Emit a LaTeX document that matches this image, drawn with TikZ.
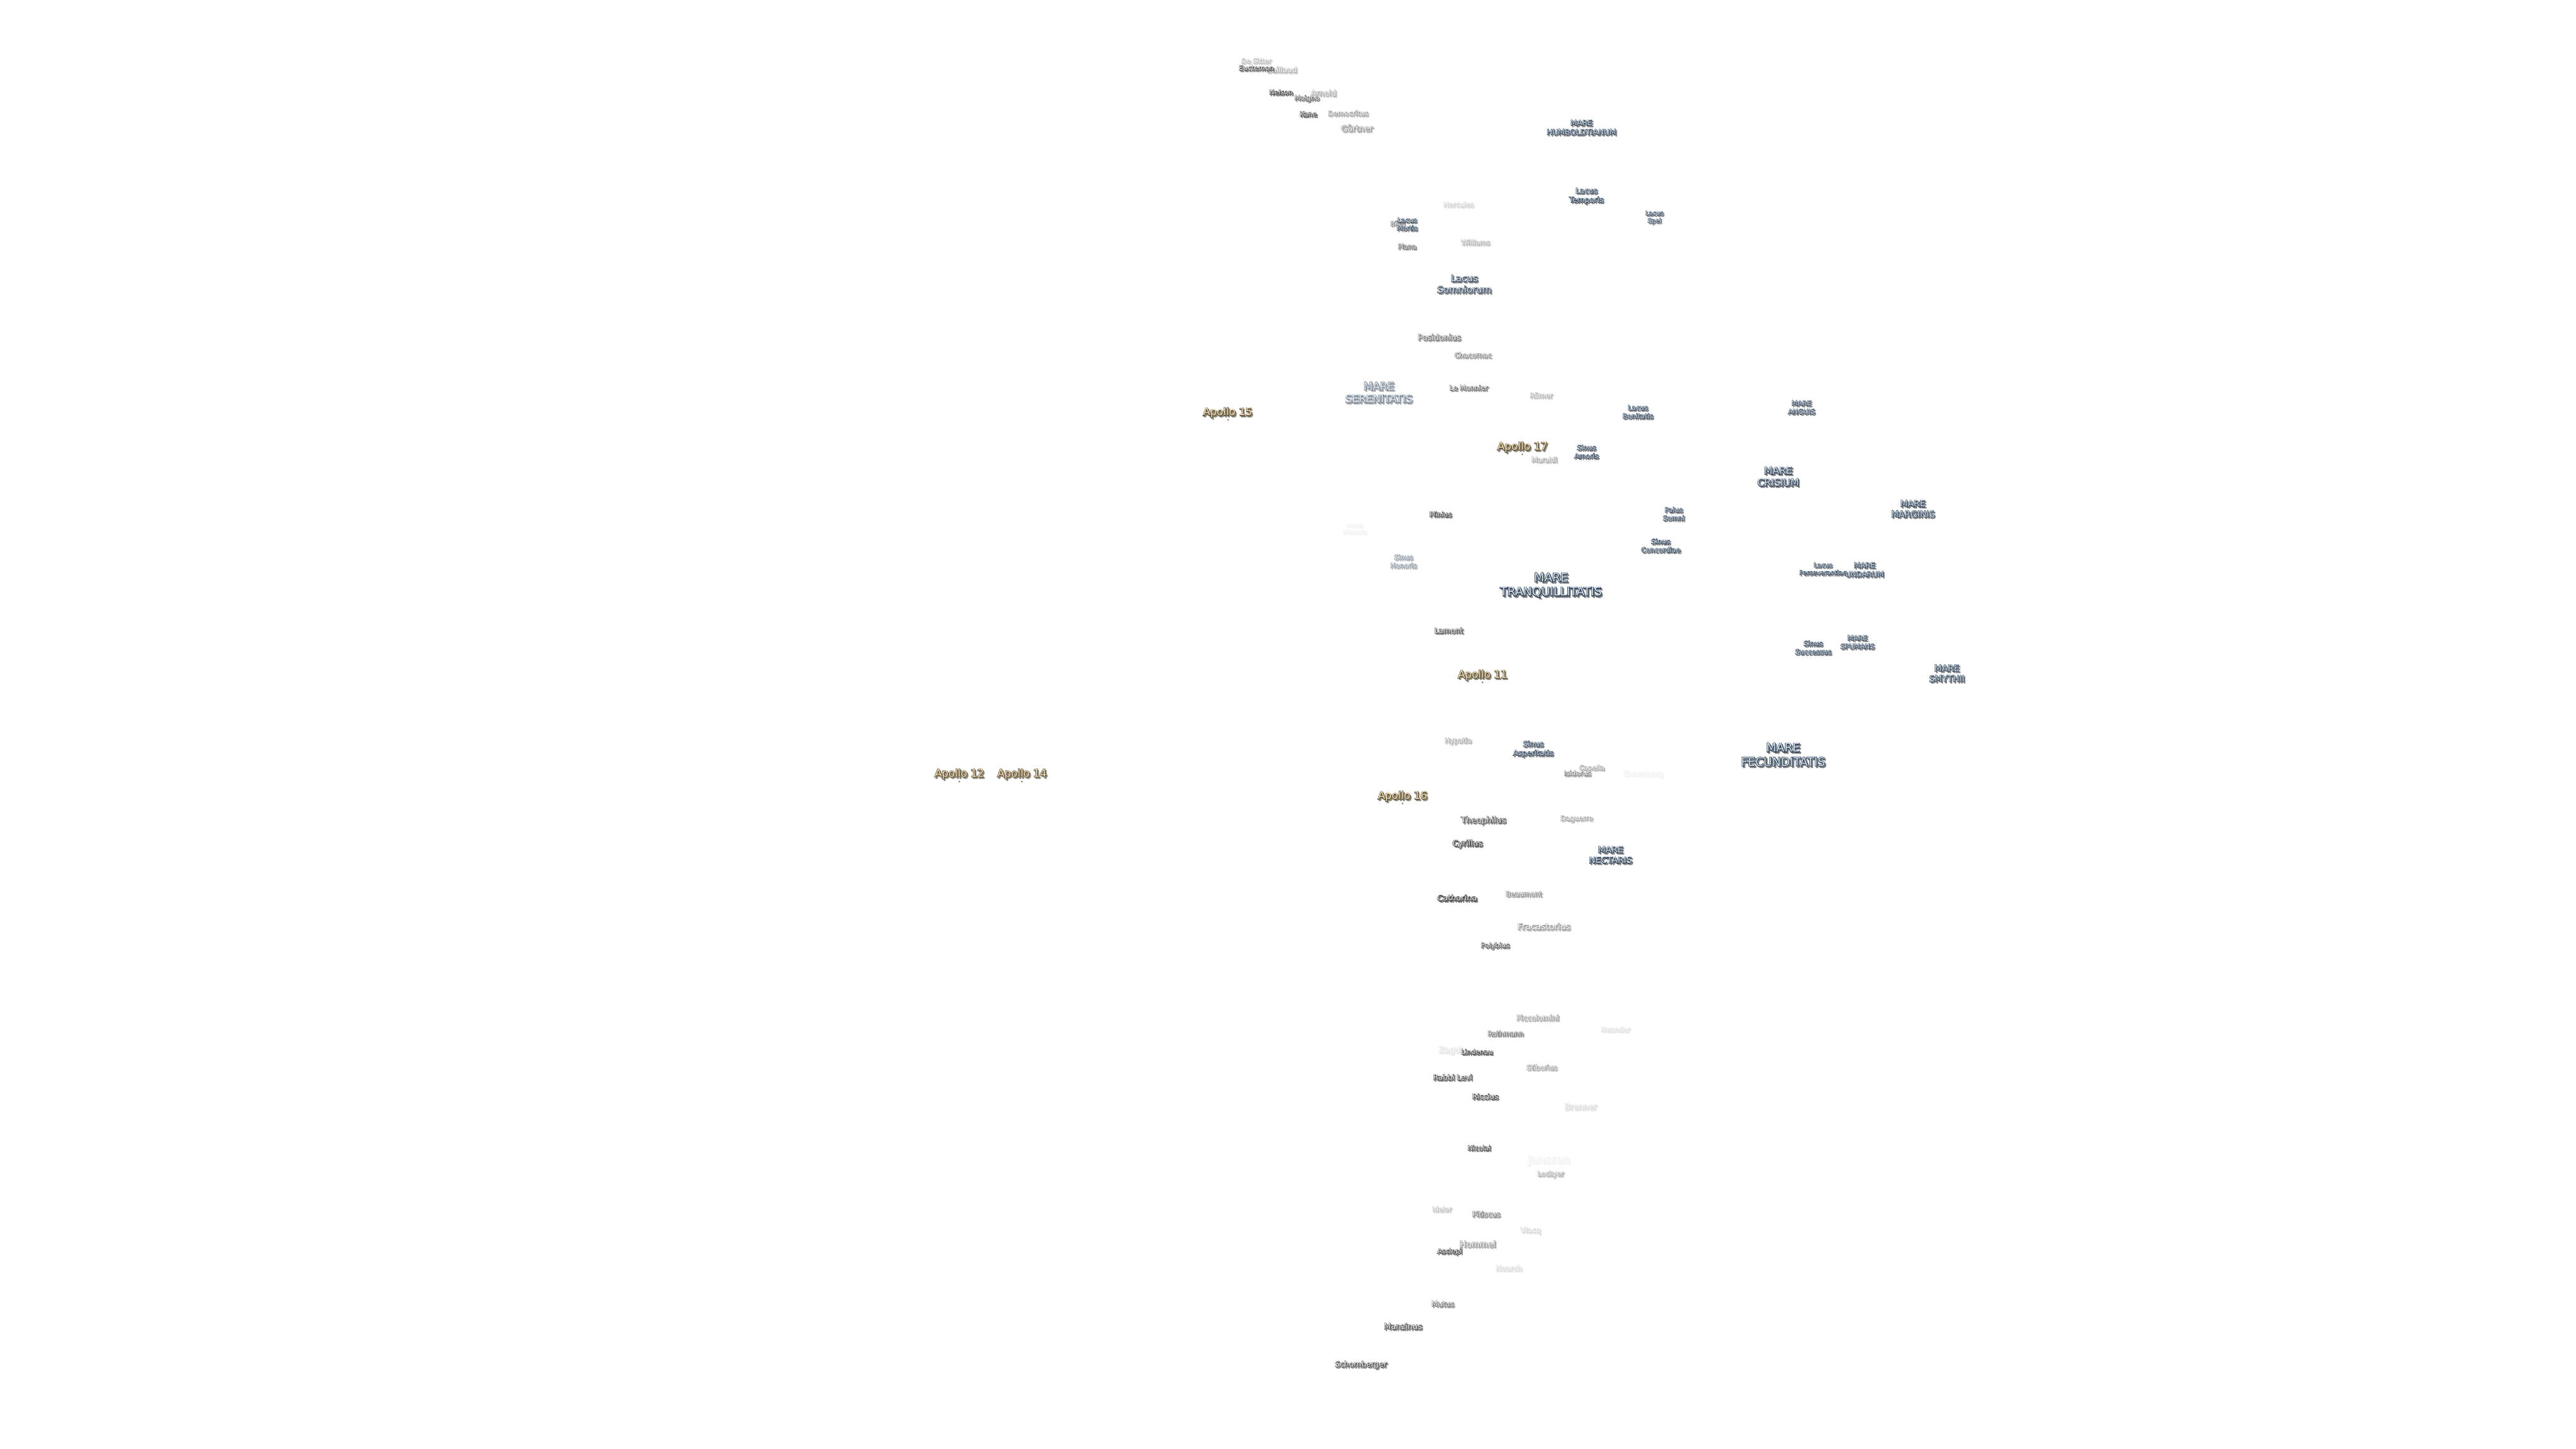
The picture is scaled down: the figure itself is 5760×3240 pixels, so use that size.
\documentclass[tikz,border=0pt]{standalone}
\usepackage{fontspec}
\setmainfont{DejaVu Sans}
\newfontfamily\lblbase{DejaVu Sans}
\newfontfamily\lblhalo[FakeBold=9]{DejaVu Sans}
\font\lblmeasure="DejaVu Sans" at 10pt
\newsavebox\lblbox
\definecolor{craterfill}{HTML}{FFFFFF}
\definecolor{craterhalo}{HTML}{2A2A2A}
\definecolor{craterdrop}{HTML}{6A6A6A}
\definecolor{marefill}{HTML}{CDE3F8}
\definecolor{marehalo}{HTML}{2C3644}
\definecolor{maredrop}{HTML}{6A6E74}
\definecolor{apollofill}{HTML}{FFE4B5}
\definecolor{apollohalo}{HTML}{4F4430}
\definecolor{apollodrop}{HTML}{7A7565}
\definecolor{sitecol}{HTML}{8A7650}
\tikzset{
  lbl/.style={inner sep=0pt,outer sep=0pt,align=center},
  sitedot/.style={circle,inner sep=0pt,minimum size=1pt,fill=sitecol}
}
% id, x, y, widest-line px, strength, kind, text, widest line
\newcommand\lbl[8]{%
  \sbox\lblbox{\lblmeasure #8}%
  \pgfmathsetmacro\lblsz{2.5*(#4-3)/\the\wd\lblbox}%
  \pgfmathsetmacro\lblsk{1.2*\lblsz}%
  \pgfmathsetmacro\lblop{100*pow(#5,0.75)}%
  \pgfmathsetmacro\lblopd{85*pow(#5,0.75)}%
  \colorlet{curfill}{#6fill!\lblop!white}%
  \colorlet{curhalo}{#6halo!\lblop!white}%
  \colorlet{curdrop}{#6drop!\lblopd!white}%
  \node[lbl,text=curdrop,font=\lblhalo\fontsize{\lblsz pt}{\lblsk pt}\selectfont] (#1d) at (#2+3,#3+3) {#7};%
  \node[lbl,text=curhalo,font=\lblhalo\fontsize{\lblsz pt}{\lblsk pt}\selectfont] (#1h) at (#2,#3) {#7};%
  \node[lbl,text=curfill,font=\lblbase\fontsize{\lblsz pt}{\lblsk pt}\selectfont] (#1) at (#2,#3) {#7};%
}
\newcommand\site[3]{%
  \node[sitedot] (#1) at (#2,#3) {};%
}
\begin{document}
\begin{tikzpicture}[x=0.25pt,y=-0.25pt]
\useasboundingbox (0,0) rectangle (5760,3240);
\fill[white] (0,0) rectangle (5760,3240);
% faint labels first
\lbl{desitter}{2809}{136}{70}{.25}{crater}{De Sitter}{De Sitter}
\lbl{baillaud}{2866}{156}{70}{.3}{crater}{Baillaud}{Baillaud}
\lbl{euctemon}{2809}{152}{81}{.9}{crater}{Euctemon}{Euctemon}
\lbl{arnold}{2959}{208}{60}{.35}{crater}{Arnold}{Arnold}
\lbl{nelson}{2864}{206}{55}{1}{crater}{Nelson}{Nelson}
\lbl{moigno}{2922}{220}{58}{.75}{crater}{Moigno}{Moigno}
\lbl{kane}{2925}{255}{41}{1}{crater}{Kane}{Kane}
\lbl{democritus}{3014}{253}{93}{.4}{crater}{Democritus}{Democritus}
\lbl{gartner}{3034}{287}{74}{.45}{crater}{Gärtner}{Gärtner}
\lbl{humboldt}{3536}{285}{158}{1}{mare}{MARE\\HUMBOLDTIANUM}{HUMBOLDTIANUM}
\lbl{temporis}{3547}{438}{79}{1}{mare}{Lacus\\Temporis}{Temporis}
\lbl{spei}{3699}{486}{43}{.95}{mare}{Lacus\\Spei}{Lacus}
\lbl{hercules}{3261}{457}{70}{.15}{crater}{Hercules}{Hercules}
\lbl{burg}{3125}{501}{36}{.6}{crater}{Bürg}{Bürg}
\lbl{mortis}{3146}{501}{49}{1}{mare}{Lacus\\Mortis}{Mortis}
\lbl{plana}{3146}{551}{44}{.75}{crater}{Plana}{Plana}
\lbl{williams}{3299}{542}{67}{.3}{crater}{Williams}{Williams}
\lbl{somniorum}{3274}{635}{124}{.9}{mare}{Lacus\\Somniorum}{Somniorum}
\lbl{posidonius}{3218}{754}{99}{.65}{crater}{Posidonius}{Posidonius}
\lbl{chacornac}{3293}{794}{86}{.55}{crater}{Chacornac}{Chacornac}
\lbl{serenitatis}{3083}{878}{153}{.55}{mare}{MARE\\SERENITATIS}{SERENITATIS}
\lbl{lemonnier}{3284}{867}{89}{.7}{crater}{Le Monnier}{Le Monnier}
\lbl{romer}{3446}{884}{54}{.3}{crater}{Römer}{Römer}
\lbl{bonitatis}{3662}{921}{71}{1}{mare}{Lacus\\Bonitatis}{Bonitatis}
\lbl{maraldi}{3453}{1028}{60}{.35}{crater}{Maraldi}{Maraldi}
\lbl{amoris}{3547}{1010}{57}{1}{mare}{Sinus\\Amoris}{Amoris}
\lbl{plinius}{3221}{1150}{52}{1}{crater}{Plinius}{Plinius}
\lbl{hiemalis}{3029}{1182}{57}{.03}{mare}{Lacus\\Hiemalis}{Hiemalis}
\lbl{somni}{3742}{1149}{51}{1}{mare}{Palus\\Somni}{Somni}
\lbl{concordiae}{3713}{1220}{91}{1}{mare}{Sinus\\Concordiae}{Concordiae}
\lbl{honoris}{3138}{1255}{62}{.45}{mare}{Sinus\\Honoris}{Honoris}
\lbl{anguis}{4028}{911}{63}{1}{mare}{MARE\\ANGUIS}{ANGUIS}
\lbl{crisium}{3976}{1066}{96}{1}{mare}{MARE\\CRISIUM}{CRISIUM}
\lbl{marginis}{4277}{1138}{100}{1}{mare}{MARE\\MARGINIS}{MARGINIS}
\lbl{perseverantiae}{4076}{1272}{109}{1}{mare}{Lacus\\Perseverantiae}{Perseverantiae}
\lbl{undarum}{4169}{1274}{89}{1}{mare}{MARE\\UNDARUM}{UNDARUM}
\lbl{successus}{4054}{1448}{84}{1}{mare}{Sinus\\Successus}{Successus}
\lbl{spumans}{4153}{1436}{79}{1}{mare}{MARE\\SPUMANS}{SPUMANS}
\lbl{smythii}{4353}{1506}{82}{1}{mare}{MARE\\SMYTHII}{SMYTHII}
\lbl{tranquillitatis}{3468}{1309}{230}{1}{mare}{MARE\\TRANQUILLITATIS}{TRANQUILLITATIS}
\lbl{lamont}{3239}{1410}{67}{.9}{crater}{Lamont}{Lamont}
\lbl{hypatia}{3260}{1657}{63}{.35}{crater}{Hypatia}{Hypatia}
\lbl{asperitatis}{3428}{1675}{93}{1}{mare}{Sinus\\Asperitatis}{Asperitatis}
\lbl{capella}{3559}{1718}{60}{.35}{crater}{Capella}{Capella}
\lbl{isidorus}{3527}{1729}{63}{.55}{crater}{Isidorus}{Isidorus}
\lbl{gutenberg}{3674}{1731}{92}{.03}{crater}{Gutenberg}{Gutenberg}
\lbl{fecunditatis}{3987}{1688}{191}{1}{mare}{MARE\\FECUNDITATIS}{FECUNDITATIS}
\lbl{theophilus}{3317}{1835}{103}{.85}{crater}{Theophilus}{Theophilus}
\lbl{daguerre}{3525}{1831}{75}{.35}{crater}{Daguerre}{Daguerre}
\lbl{cyrillus}{3281}{1887}{70}{1}{crater}{Cyrillus}{Cyrillus}
\lbl{nectaris}{3601}{1912}{99}{1}{mare}{MARE\\NECTARIS}{NECTARIS}
\lbl{catharina}{3258}{2008}{92}{1}{crater}{Catharina}{Catharina}
\lbl{beaumont}{3407}{1999}{83}{.55}{crater}{Beaumont}{Beaumont}
\lbl{fracastorius}{3452}{2072}{121}{.4}{crater}{Fracastorius}{Fracastorius}
\lbl{polybius}{3343}{2115}{67}{.85}{crater}{Polybius}{Polybius}
\lbl{piccolomini}{3438}{2276}{98}{.4}{crater}{Piccolomini}{Piccolomini}
\lbl{rothmann}{3366}{2311}{83}{.7}{crater}{Rothmann}{Rothmann}
\lbl{neander}{3612}{2302}{68}{.1}{crater}{Neander}{Neander}
\lbl{zagut}{3244}{2349}{58}{.08}{crater}{Zagut}{Zagut}
\lbl{lindenau}{3302}{2352}{73}{1}{crater}{Lindenau}{Lindenau}
\lbl{stiborius}{3447}{2387}{71}{.4}{crater}{Stiborius}{Stiborius}
\lbl{rabbilevi}{3248}{2409}{90}{.9}{crater}{Rabbi Levi}{Rabbi Levi}
\lbl{riccius}{3321}{2452}{61}{.9}{crater}{Riccius}{Riccius}
\lbl{brenner}{3534}{2475}{75}{.12}{crater}{Brenner}{Brenner}
\lbl{nicolai}{3307}{2567}{54}{1}{crater}{Nicolai}{Nicolai}
\lbl{janssen}{3463}{2595}{97}{.03}{crater}{Janssen}{Janssen}
\lbl{lockyer}{3467}{2626}{62}{.35}{crater}{Lockyer}{Lockyer}
\lbl{ideler}{3224}{2704}{46}{.25}{crater}{Ideler}{Ideler}
\lbl{pitiscus}{3323}{2715}{65}{.6}{crater}{Pitiscus}{Pitiscus}
\lbl{vlacq}{3422}{2752}{48}{.13}{crater}{Vlacq}{Vlacq}
\lbl{hommel}{3304}{2782}{83}{.45}{crater}{Hommel}{Hommel}
\lbl{asclepi}{3241}{2799}{58}{1}{crater}{Asclepi}{Asclepi}
\lbl{nearch}{3374}{2836}{61}{.12}{crater}{Nearch}{Nearch}
\lbl{mutus}{3226}{2916}{53}{.65}{crater}{Mutus}{Mutus}
\lbl{manzinus}{3137}{2966}{88}{.85}{crater}{Manzinus}{Manzinus}
\lbl{schomberger}{3043}{3052}{119}{.9}{crater}{Schomberger}{Schomberger}
% Apollo sites
\lbl{apolloxvii}{3404}{1000}{115}{1}{apollo}{Apollo 17}{Apollo 17}
\site{sitexvii}{3404}{1016}
\lbl{apolloxi}{3315}{1510}{113}{1}{apollo}{Apollo 11}{Apollo 11}
\site{sitexi}{3315}{1526}
\lbl{apolloxvi}{3136}{1781}{113}{1}{apollo}{Apollo 16}{Apollo 16}
\site{sitexvi}{3136}{1797}
\lbl{apolloxv}{2745}{923}{113}{1}{apollo}{Apollo 15}{Apollo 15}
\site{sitexv}{2746}{939}
\lbl{apolloxii}{2145}{1731}{113}{1}{apollo}{Apollo 12}{Apollo 12}
\site{sitexii}{2145}{1748}
\lbl{apolloxiv}{2285}{1731}{113}{1}{apollo}{Apollo 14}{Apollo 14}
\site{sitexiv}{2285}{1748}
\end{tikzpicture}
\end{document}
